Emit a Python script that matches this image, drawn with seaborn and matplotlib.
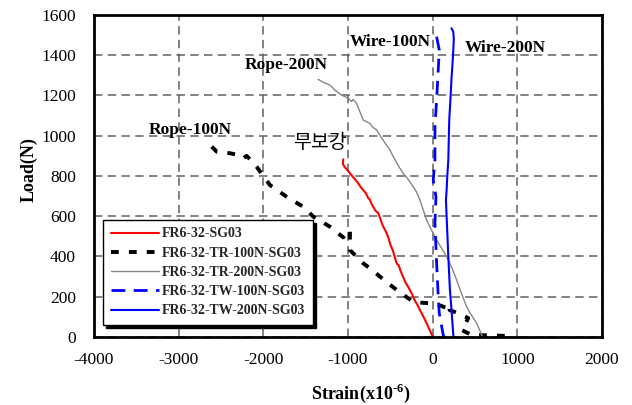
import matplotlib
matplotlib.use("Agg")
import matplotlib.pyplot as plt
from matplotlib.ticker import MultipleLocator
import seaborn as sns
import pandas as pd

# Load-strain curves at gauge SG03 for each strengthening case
plain_x = [-1056, -1060, -1040, -1009, -980, -950, -920, -879, -850, -820, -790, -760,
           -740, -720, -701, -680, -642, -620, -600, -583, -560, -543, -520, -500, -470,
           -450, -425, -400, -380, -350, -320, -290, -268, -240, -210, -180, -150, -120,
           -90, -71, -40, -15, 7]
plain_y = [883, 860, 845, 830, 815, 800, 785, 764, 745, 730, 715, 690, 681, 660, 647, 630,
           615, 590, 565, 548, 530, 515, 490, 460, 430, 400, 366, 355, 330, 300, 270, 250,
           233, 210, 180, 160, 134, 110, 85, 68, 40, 15, 0]

rope100_x = [-2610, -2551, -2394, -2300, -2237, -2197, -2150, -2079, -2000, -1922, -1820,
             -1725, -1620, -1528, -1410, -1300, -1213, -1130, -1056, -990, -977, -977, -900,
             -820, -720, -622, -520, -425, -330, -229, -120, 7, 100, 165, 204, 200, 300, 420,
             380, 342, 460, 700, 950]
rope100_y = [946, 921, 913, 905, 888, 900, 880, 846, 800, 755, 725, 697, 670, 647, 598, 570,
             548, 520, 495, 530, 532, 432, 400, 366, 335, 300, 265, 234, 205, 175, 170, 167,
             155, 143, 159, 134, 118, 94, 60, 35, 10, 8, 4]

rope200_x = [-1351, -1290, -1213, -1150, -1100, -1075, -1040, -997, -960, -940, -898, -870,
             -840, -820, -780, -740, -700, -661, -620, -580, -540, -504, -470, -430, -390,
             -347, -300, -260, -229, -190, -150, -110, -71, -30, 7, 50, 100, 165, 210, 250,
             283, 320, 360, 402, 440, 480, 520, 550, 579, 600]
rope200_y = [1280, 1265, 1252, 1225, 1210, 1202, 1195, 1186, 1170, 1180, 1161, 1130, 1100,
             1078, 1070, 1060, 1040, 1029, 1000, 975, 950, 929, 900, 870, 840, 813, 790, 765,
             747, 720, 680, 630, 581, 545, 515, 480, 445, 399, 360, 320, 283, 240, 195, 151,
             120, 95, 68, 40, 10, 0]

wire100_x = [47, 78, 66, 47, 27, 27, 7, 39, 27, 47, 66, 78, 125, 135]
wire100_y = [1492, 1426, 1327, 1178, 1045, 880, 780, 697, 565, 366, 200, 118, 10, 0]

wire200_x = [222, 244, 250, 244, 235, 224, 210, 196, 185, 173, 165, 157, 165, 185, 204,
             220, 244, 246]
wire200_y = [1534, 1517, 1480, 1426, 1360, 1293, 1180, 1078, 880, 800, 730, 681, 600, 399,
             234, 150, 10, 0]

series_names = ["FR6-32-SG03", "FR6-32-TR-100N-SG03", "FR6-32-TR-200N-SG03",
                "FR6-32-TW-100N-SG03", "FR6-32-TW-200N-SG03"]

annot_text = ["Rope-100N", "Rope-200N", "Wire-100N", "Wire-200N"]
annot_x = [-2866, -1731, -504, 854]
annot_y = [1029, 1352, 1466, 1436]

sns.set_theme(style="white")
plt.rcParams["font.family"] = ["Liberation Serif", "DejaVu Serif"]
plt.rcParams["axes.unicode_minus"] = False
plt.rcParams["mathtext.fontset"] = "custom"
plt.rcParams["mathtext.rm"] = "Liberation Serif"
plt.rcParams["mathtext.bf"] = "Liberation Serif:bold"

fig = plt.figure(figsize=(6.32, 4.05), dpi=100)
ax = fig.add_axes([0.1487, 0.1679, 0.8038, 0.7951])

curves = [
    (plain_x, plain_y, dict(color="#ff0000", lw=1.5, linestyle="-")),
    (rope100_x, rope100_y, dict(color="black", lw=2.8, linestyle=(0, (2.0, 2.6)))),
    (rope200_x, rope200_y, dict(color="#858585", lw=1.0, linestyle="-")),
    (wire100_x, wire100_y, dict(color="#0000ff", lw=2.0, linestyle=(0, (5.0, 3.0)))),
    (wire200_x, wire200_y, dict(color="#0000ff", lw=1.5, linestyle="-")),
]
for name, (xs, ys, style) in zip(series_names, curves):
    df = pd.DataFrame({"strain": xs, "load": ys})
    sns.lineplot(data=df, x="strain", y="load", sort=False, estimator=None,
                 ax=ax, label=name, **style)

ax.set_xlim(-4000, 2000)
ax.set_ylim(0, 1600)
ax.xaxis.set_major_locator(MultipleLocator(1000))
ax.xaxis.set_minor_locator(MultipleLocator(250))
ax.yaxis.set_major_locator(MultipleLocator(200))
ax.yaxis.set_minor_locator(MultipleLocator(40))

ax.grid(True, which="major", color="#606060", lw=1.1, linestyle=(0, (5.5, 3.5)))
ax.set_axisbelow(True)

for sp in ax.spines.values():
    sp.set_color("black")
    sp.set_linewidth(2.0)

ax.tick_params(which="both", direction="in", top=False, right=False, colors="black")
ax.tick_params(which="major", length=6, width=1.0, labelsize=12.5, pad=11)
ax.tick_params(which="minor", length=3, width=1.0)
ax.tick_params(axis="y", pad=13)

ax.set_xlabel(r"Strain(x10$^{\mathbf{\text{-}6}}$)", fontsize=13, fontweight="bold",
              color="black")
ax.set_ylabel("Load(N)", fontsize=13, fontweight="bold", color="black")
ax.xaxis.set_label_coords(0.526, -0.14)
ax.yaxis.set_label_coords(-0.11, 0.52)

for t, x, y in zip(annot_text, annot_x, annot_y):
    ax.text(x, y, t, fontsize=12.5, fontweight="bold", ha="center", va="center",
            color="black")
ax.text(-1331, 964, "무보강", fontsize=14, ha="center", va="center", color="black",
        family=["Noto Sans CJK KR", "DejaVu Sans"])

leg = ax.legend(loc="lower left", bbox_to_anchor=(0.018, 0.037), borderaxespad=0,
                fancybox=False, framealpha=1, edgecolor="black",
                prop={"family": "Liberation Serif", "weight": "bold", "size": 10},
                handlelength=3.5, handletextpad=0.2, labelspacing=0.45, borderpad=0.55,
                shadow={"color": "black", "alpha": 1})
leg.get_frame().set_linewidth(1.0)

fig.savefig("out.png", dpi=100, facecolor="white")
